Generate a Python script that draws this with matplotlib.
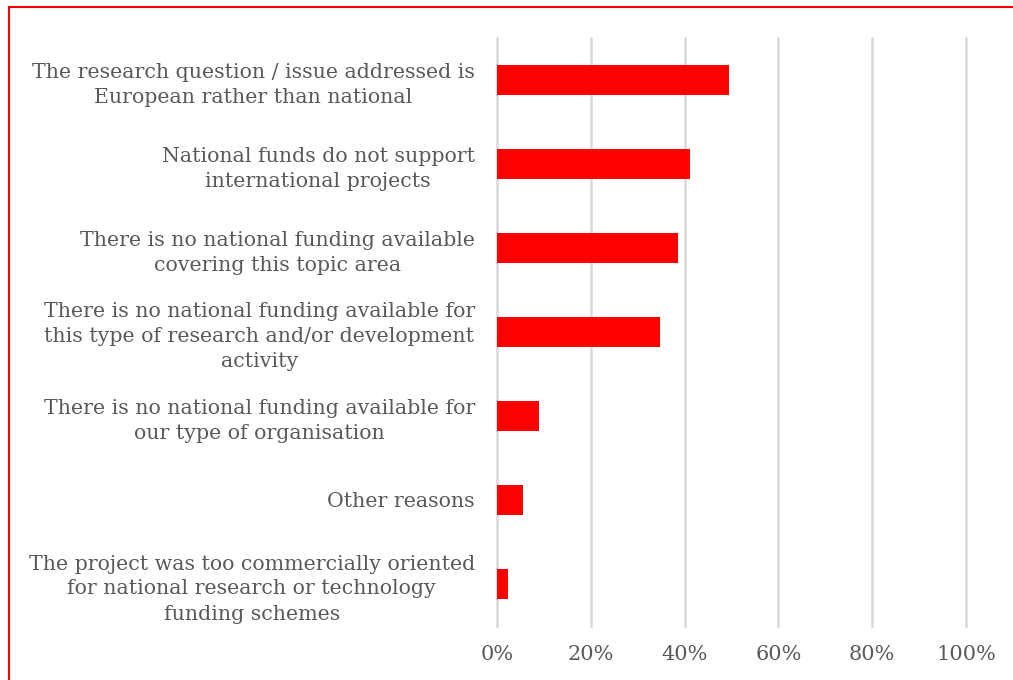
import matplotlib.pyplot as plt
from matplotlib.patches import Rectangle
from matplotlib.ticker import PercentFormatter

# reasons (top to bottom) and share of respondents
reasons = [
    "The research question / issue addressed is\nEuropean rather than national",
    "National funds do not support\ninternational projects",
    "There is no national funding available\ncovering this topic area",
    "There is no national funding available for\nthis type of research and/or development\nactivity",
    "There is no national funding available for\nour type of organisation",
    "Other reasons",
    "The project was too commercially oriented\nfor national research or technology\nfunding schemes",
]
shares = [0.495, 0.412, 0.386, 0.348, 0.090, 0.055, 0.024]
x_ticks = [0, 0.2, 0.4, 0.6, 0.8, 1.0]

W, H = 1013, 680
fig = plt.figure(figsize=(W / 100, H / 100), dpi=100)
ax = fig.add_axes([497 / W, 1 - 626 / H, (966 - 497) / W, (626 - 38) / H])

text_color = "#595959"
font = ["DejaVu Serif"]

y = list(range(len(reasons)))
ax.barh(y, shares, height=0.35, color="#ff0000", zorder=3)
ax.set_ylim(len(reasons) - 0.5, -0.5)
ax.set_xlim(0, 1)

ax.set_xticks(x_ticks)
ax.xaxis.set_major_formatter(PercentFormatter(1.0, decimals=0))
ax.set_yticks(y)
ax.set_yticklabels(reasons)
ax.tick_params(axis="y", length=0, pad=16)
ax.tick_params(axis="x", length=0, pad=14)
for lab in ax.get_yticklabels():
    lab.set_ha("right")
    lab.set_multialignment("center")
    lab.set_fontsize(14.8)
    lab.set_color(text_color)
    lab.set_family(font)
    lab.set_linespacing(1.4)
for lab in ax.get_xticklabels():
    lab.set_fontsize(15)
    lab.set_color(text_color)
    lab.set_family(font)

ax.grid(axis="x", color="#d9d9d9", linewidth=1.8, zorder=0)
for g in ax.get_xgridlines():
    g.set_clip_on(False)
for s in ax.spines.values():
    s.set_visible(False)

# red frame around the figure (clipped at right and bottom)
fig.patches.append(Rectangle((9 / W, -0.1), 1.2, 1 - 7 / H + 0.1,
                             transform=fig.transFigure, fill=False,
                             edgecolor="#ff0000", linewidth=1.5))

fig.savefig("out.png", dpi=100)
